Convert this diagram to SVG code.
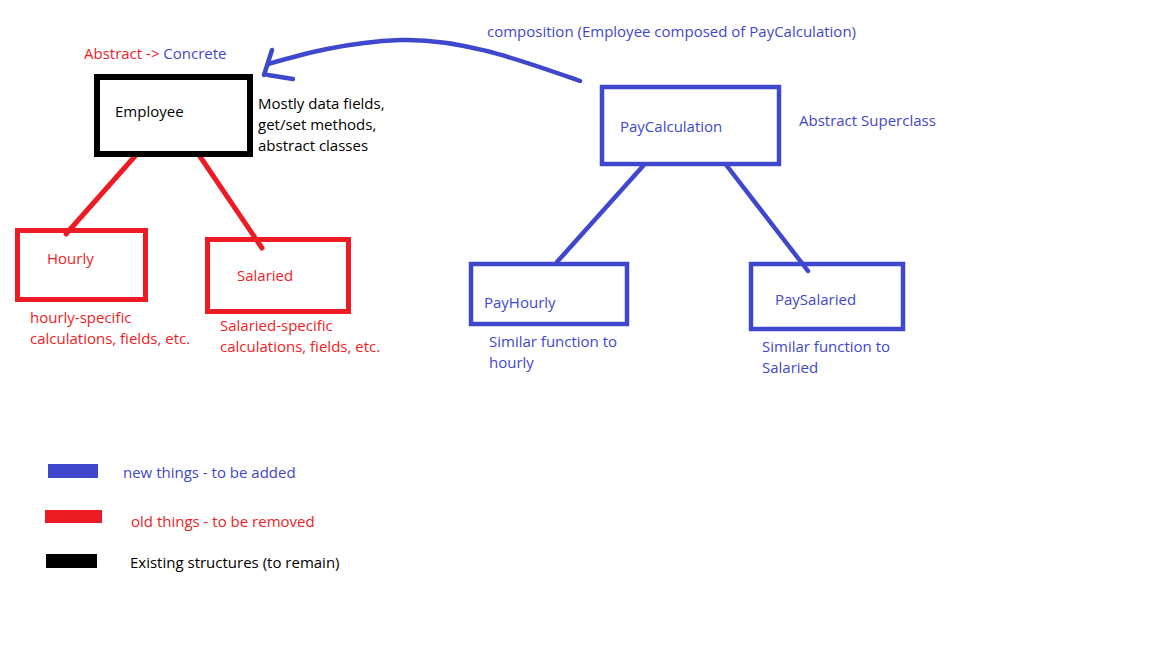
<svg xmlns="http://www.w3.org/2000/svg" width="1152" height="648" viewBox="0 0 1152 648">
<style>
text{font-family:"Open Sans","Noto Sans","Liberation Sans",sans-serif;font-size:15px}
.b{fill:#3f48cc}.r{fill:#ed1c24}.k{fill:#000}
.bs{fill:none;stroke:#3f48cc;stroke-width:4.5;stroke-linecap:round}
.rs{fill:none;stroke:#ed1c24;stroke-width:5;stroke-linecap:round}
</style>
<rect width="1152" height="648" fill="#fff"/>
<g id="connectors">
<line class="rs" x1="136" y1="155" x2="66" y2="234"/>
<line class="rs" x1="199" y1="155" x2="262" y2="248"/>
<line class="bs" x1="643" y1="166" x2="557" y2="262"/>
<line class="bs" x1="727" y1="166" x2="808" y2="271"/>
<path class="bs" d="M580,81 C520,60 460,38 400,40 C345,42 300,55 268,64"/>
<path class="bs" d="M272,50 L264,75 M268,75 L293,79"/>
</g>
<g id="employee">
<rect x="97" y="77" width="153" height="77" fill="none" stroke="#000" stroke-width="6"/>
<text class="k" x="115" y="117">Employee</text>
</g>
<g id="hourly">
<rect x="17.5" y="230.5" width="128" height="69" fill="none" stroke="#ed1c24" stroke-width="5"/>
<text class="r" x="47" y="264">Hourly</text>
</g>
<g id="salaried">
<rect x="207.5" y="239.5" width="141" height="72" fill="none" stroke="#ed1c24" stroke-width="5"/>
<text class="r" x="237" y="281">Salaried</text>
</g>
<g id="paycalculation">
<rect x="602" y="87" width="177" height="77" fill="none" stroke="#3f48cc" stroke-width="4.5"/>
<text class="b" x="620" y="132">PayCalculation</text>
</g>
<g id="payhourly">
<rect x="471" y="264" width="156" height="60" fill="none" stroke="#3f48cc" stroke-width="4.5"/>
<text class="b" x="484" y="308">PayHourly</text>
</g>
<g id="paysalaried">
<rect x="751" y="264" width="152" height="65" fill="none" stroke="#3f48cc" stroke-width="4.5"/>
<text class="b" x="775" y="305">PaySalaried</text>
</g>
<g id="labels">
<text x="84" y="59"><tspan class="r">Abstract -&gt; </tspan><tspan class="b">Concrete</tspan></text>
<text class="k" x="258" y="109">Mostly data fields,</text>
<text class="k" x="258" y="130">get/set methods,</text>
<text class="k" x="258" y="151">abstract classes</text>
<text class="b" x="487" y="37">composition (Employee composed of PayCalculation)</text>
<text class="b" x="799" y="126">Abstract Superclass</text>
<text class="b" x="489" y="347">Similar function to</text>
<text class="b" x="489" y="368">hourly</text>
<text class="b" x="762" y="352">Similar function to</text>
<text class="b" x="762" y="373">Salaried</text>
<text class="r" x="30" y="323">hourly-specific</text>
<text class="r" x="30" y="344">calculations, fields, etc.</text>
<text class="r" x="220" y="331">Salaried-specific</text>
<text class="r" x="220" y="352">calculations, fields, etc.</text>
</g>
<g id="legend">
<rect x="48" y="464" width="50" height="14" fill="#3f48cc"/>
<rect x="45" y="510" width="57" height="13" fill="#ed1c24"/>
<rect x="46" y="554" width="51" height="14" fill="#000"/>
<text class="b" x="123" y="478">new things - to be added</text>
<text class="r" x="131" y="527">old things - to be removed</text>
<text class="k" x="130" y="568">Existing structures (to remain)</text>
</g>
</svg>
